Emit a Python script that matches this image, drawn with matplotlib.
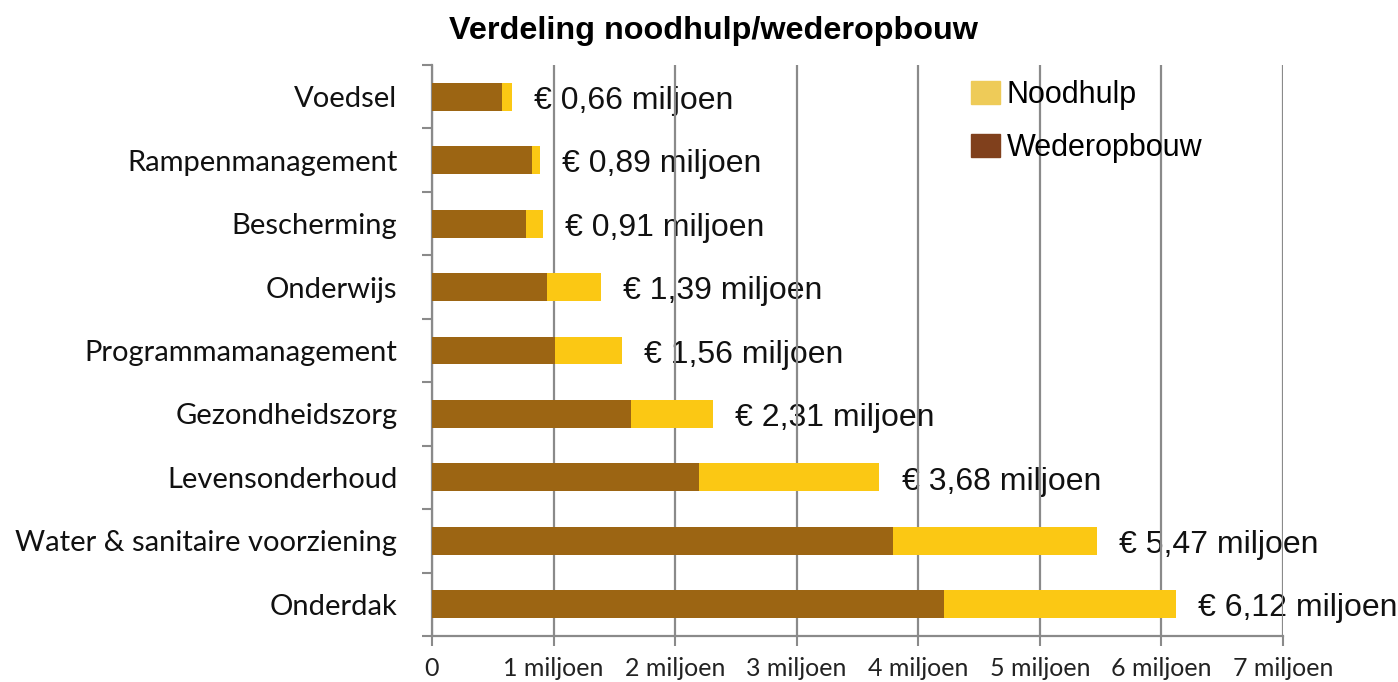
import numpy as np
import matplotlib.pyplot as plt
from matplotlib.patches import Patch

categories = ["Voedsel", "Rampenmanagement", "Bescherming", "Onderwijs",
              "Programmamanagement", "Gezondheidszorg", "Levensonderhoud",
              "Water & sanitaire voorziening", "Onderdak"]
totals = [0.66, 0.89, 0.91, 1.39, 1.56, 2.31, 3.68, 5.47, 6.12]
wederopbouw = [0.58, 0.82, 0.77, 0.95, 1.01, 1.64, 2.20, 3.79, 4.21]
noodhulp = [t - w for t, w in zip(totals, wederopbouw)]
xticklabels = ["0", "1 miljoen", "2 miljoen", "3 miljoen", "4 miljoen",
               "5 miljoen", "6 miljoen", "7 miljoen"]

brown = "#9c6513"
yellow = "#fbc814"
grid_c = "#8a8a8a"

fig = plt.figure(figsize=(13.98, 6.82), dpi=100)
ax = fig.add_axes([0.309, 0.0674, 0.6087, 0.8373])

y = np.arange(len(categories))
ax.barh(y, wederopbouw, height=0.44, color=brown, zorder=3)
ax.barh(y, noodhulp, left=wederopbouw, height=0.44, color=yellow, zorder=3)

for i, t in enumerate(totals):
    lbl = "€ " + ("%.2f" % t).replace(".", ",") + " miljoen"
    ax.annotate(lbl, xy=(t, i), xytext=(16, -3), textcoords="offset points",
                va="center", ha="left", fontsize=23, family="Liberation Sans",
                color="#111111", zorder=1)

ax.set_xlim(0, 7)
ax.set_ylim(len(categories) - 0.5, -0.5)

# grid
ax.set_xticks(range(8))
ax.set_xticklabels(xticklabels, family="Lato", fontsize=18, color="#222222")
ax.grid(axis="x", color=grid_c, linewidth=1.6, zorder=0)
ax.tick_params(axis="x", length=7, width=1.5, color=grid_c, pad=8)

ax.set_yticks(y)
ax.set_yticklabels(categories, family="Lato", fontsize=21, color="#111111")
ax.set_yticks(np.arange(len(categories) + 1) - 0.5, minor=True)
ax.tick_params(axis="y", which="major", length=0, pad=25)
ax.tick_params(axis="y", which="minor", length=7, width=1.5, color=grid_c)

for s in ["top", "right"]:
    ax.spines[s].set_visible(False)
for s in ["left", "bottom"]:
    ax.spines[s].set_color(grid_c)
    ax.spines[s].set_linewidth(1.6)

handles = [Patch(color="#eecb58", label="Noodhulp"),
           Patch(color="#80401c", label="Wederopbouw")]
ax.legend(handles=handles, loc="upper left", bbox_to_anchor=(0.616, 1.0),
          frameon=False, borderpad=0, handlelength=0.95, handleheight=0.8,
          handletextpad=0.2, labelspacing=0.75,
          prop={"family": "Liberation Sans", "size": 22})

fig.text(0.51, 0.955, "Verdeling noodhulp/wederopbouw", ha="center", va="center",
         fontsize=23.3, fontweight="bold", family="Liberation Sans")

fig.savefig("out.png", dpi=100)
